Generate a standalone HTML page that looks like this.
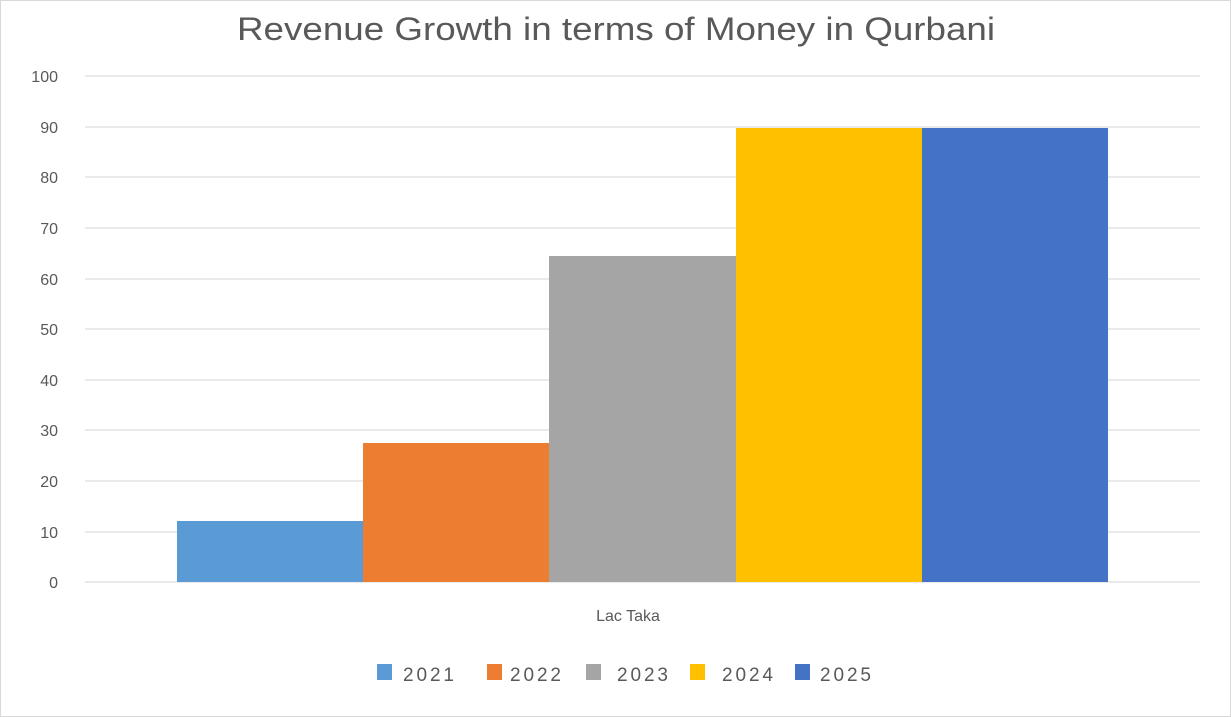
<!DOCTYPE html>
<html><head><meta charset="utf-8"><style>
html,body{margin:0;padding:0;background:#fff;}
svg{display:block;font-family:"Liberation Sans",sans-serif;}
</style></head><body>
<svg width="1231" height="717" viewBox="0 0 1231 717">
<rect x="0.5" y="0.5" width="1230" height="716" fill="#fff" stroke="#d9d9d9"/>
<text x="237" y="40" font-size="32" fill="#595959" textLength="758" lengthAdjust="spacingAndGlyphs">Revenue Growth in terms of Money in Qurbani</text>
<g stroke="#e3e3e3" stroke-width="1.5">
<line x1="85" x2="1200" y1="76" y2="76"/><line x1="85" x2="1200" y1="127" y2="127"/>
<line x1="85" x2="1200" y1="177" y2="177"/><line x1="85" x2="1200" y1="228" y2="228"/>
<line x1="85" x2="1200" y1="279" y2="279"/><line x1="85" x2="1200" y1="329" y2="329"/>
<line x1="85" x2="1200" y1="380" y2="380"/><line x1="85" x2="1200" y1="430" y2="430"/>
<line x1="85" x2="1200" y1="481" y2="481"/><line x1="85" x2="1200" y1="532" y2="532"/>
<line x1="85" x2="1200" y1="582" y2="582"/>
</g>
<g font-size="16" fill="#595959" text-anchor="end">
<text x="58" y="82">100</text><text x="58" y="133">90</text><text x="58" y="183">80</text>
<text x="58" y="234">70</text><text x="58" y="285">60</text><text x="58" y="335">50</text>
<text x="58" y="386">40</text><text x="58" y="436">30</text><text x="58" y="487">20</text>
<text x="58" y="538">10</text><text x="58" y="588">0</text>
</g>
<rect x="177" y="521" width="186" height="61" fill="#5b9bd5"/>
<rect x="363" y="443" width="186" height="139" fill="#ed7d31"/>
<rect x="549" y="256" width="187" height="326" fill="#a5a5a5"/>
<rect x="736" y="128" width="186" height="454" fill="#ffc000"/>
<rect x="922" y="128" width="186" height="454" fill="#4472c4"/>
<text x="628" y="621" text-anchor="middle" font-size="16" fill="#595959">Lac Taka</text>
<g font-size="19" fill="#595959">
<rect x="377" y="664" width="15" height="16" fill="#5b9bd5"/><text x="403" y="681" textLength="51">2021</text>
<rect x="487" y="664" width="15" height="16" fill="#ed7d31"/><text x="510" y="681" textLength="51">2022</text>
<rect x="586" y="664" width="15" height="16" fill="#a5a5a5"/><text x="617" y="681" textLength="51">2023</text>
<rect x="690" y="664" width="15" height="16" fill="#ffc000"/><text x="722" y="681" textLength="51">2024</text>
<rect x="795" y="664" width="15" height="16" fill="#4472c4"/><text x="820" y="681" textLength="51">2025</text>
</g>
</svg>
</body></html>
